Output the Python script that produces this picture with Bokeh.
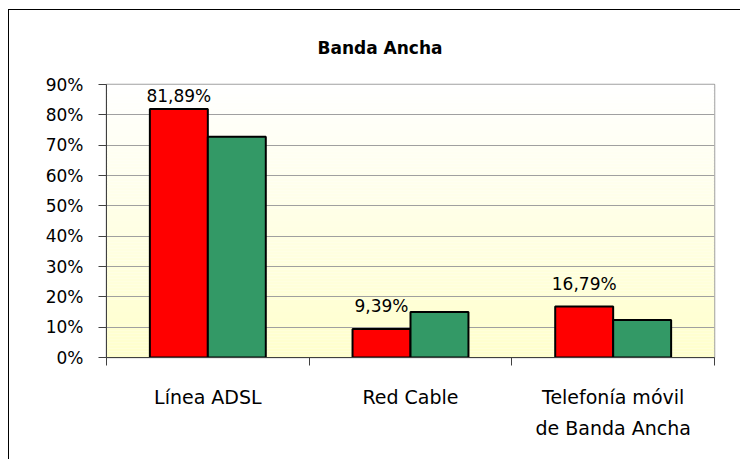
import numpy as np
from bokeh.plotting import figure
from bokeh.models import (FixedTicker, NumeralTickFormatter, Range1d, BoxAnnotation,
                          ColumnDataSource)
from bokeh.core.properties import value
from bokeh.embed import file_html
from bokeh.resources import INLINE

# ---- data ----
categories = ["Línea ADSL", "Red Cable", "Telefonía móvil\nde Banda Ancha"]
red_values = [0.8189, 0.0939, 0.1679]
green_values = [0.728, 0.150, 0.124]
red_labels = ["81,89%", "9,39%", "16,79%"]
y_ticks = [0.0, 0.1, 0.2, 0.3, 0.4, 0.5, 0.6, 0.7, 0.8, 0.9]
title_text = "Banda Ancha"

FONT = "DejaVu Sans"
W, H = 732, 450
ML, MT, MR, MB = 97, 74, 27, 103
YMAX = 0.9

p = figure(width=W, height=H, output_backend="svg", toolbar_location=None,
           x_range=Range1d(0, len(categories)), y_range=Range1d(0, YMAX),
           min_border_left=ML, min_border_top=MT, min_border_right=MR,
           min_border_bottom=MB, title=title_text)
p.styles = {"margin-left": "8px", "margin-top": "9px",
            "border-left": "1px solid #000000", "border-top": "1px solid #000000"}

p.title.text_font = FONT
p.title.text_font_size = "17px"
p.title.text_font_style = "bold"
p.title.text_color = "#000000"
p.title.align = "left"
p.title.offset = 211
p.title.vertical_align = "middle"
p.title.standoff = 52

p.background_fill_color = "#ffffff"
p.border_fill_color = "#ffffff"
p.outline_line_color = "#a0a0a0"
p.outline_line_width = 1.5

# gradient background (white at top -> light yellow at bottom)
n_bands = 90
edges = np.linspace(0, YMAX, n_bands + 1)
for i in range(n_bands):
    t = (edges[i] + edges[i + 1]) / 2 / YMAX
    b = int(round(204 + (255 - 204) * t))
    col = "#%02x%02x%02x" % (255, 255, b)
    p.add_layout(BoxAnnotation(bottom=edges[i], top=edges[i + 1], fill_color=col,
                               fill_alpha=1.0, line_alpha=0, level="image"))

# grid
p.xgrid.visible = False
p.ygrid.ticker = FixedTicker(ticks=y_ticks)
p.ygrid.grid_line_color = "#a0a0a0"
p.ygrid.grid_line_width = 1.2

# y axis
p.yaxis.ticker = FixedTicker(ticks=y_ticks)
p.yaxis.formatter = NumeralTickFormatter(format="0%")
p.yaxis.major_tick_out = 8
p.yaxis.major_tick_in = 0
p.yaxis.minor_tick_line_color = None
p.yaxis.axis_line_color = "#404040"
p.yaxis.major_tick_line_color = "#404040"
p.yaxis.major_label_text_font = FONT
p.yaxis.major_label_text_font_size = "17px"
p.yaxis.major_label_text_color = "#000000"
p.yaxis.major_label_standoff = 15

# x axis: labels at category centres, ticks at category boundaries
centers = [i + 0.5 for i in range(len(categories))]
bounds = [float(i) for i in range(len(categories) + 1)]
p.xaxis.ticker = FixedTicker(ticks=centers, minor_ticks=bounds)
p.xaxis.major_label_overrides = {c: lab for c, lab in zip(centers, categories)}
p.xaxis.major_tick_out = 0
p.xaxis.major_tick_in = 0
p.xaxis.minor_tick_out = 8
p.xaxis.minor_tick_in = 0
p.xaxis.minor_tick_line_color = "#404040"
p.xaxis.axis_line_color = "#404040"
p.xaxis.major_label_text_font = FONT
p.xaxis.major_label_text_font_size = "19px"
p.xaxis.major_label_text_line_height = 1.45
p.xaxis.major_label_text_color = "#000000"
p.xaxis.major_label_standoff = 20

# bars
bw = 0.286
x_red = [c - bw / 2 for c in centers]
x_green = [c + bw / 2 for c in centers]
p.vbar(x=x_red, top=red_values, width=bw, bottom=0, fill_color="#ff0000",
       line_color="#000000", line_width=2)
p.vbar(x=x_green, top=green_values, width=bw, bottom=0, fill_color="#339966",
       line_color="#000000", line_width=2)

# data labels on red bars (kept inside plot area)
frame_h = H - MT - MB
px_per_unit = frame_h / YMAX
offsets = [-min(13.0, (YMAX - v) * px_per_unit - 21.0) for v in red_values]
src = ColumnDataSource(dict(x=x_red, y=red_values, text=red_labels, off=offsets))
p.text(x="x", y="y", text="text", y_offset="off", source=src, text_align="center",
       text_baseline="bottom", text_font=value(FONT), text_font_size="17px",
       text_color="#000000")

open("out.html", "w").write(file_html(p, INLINE))
